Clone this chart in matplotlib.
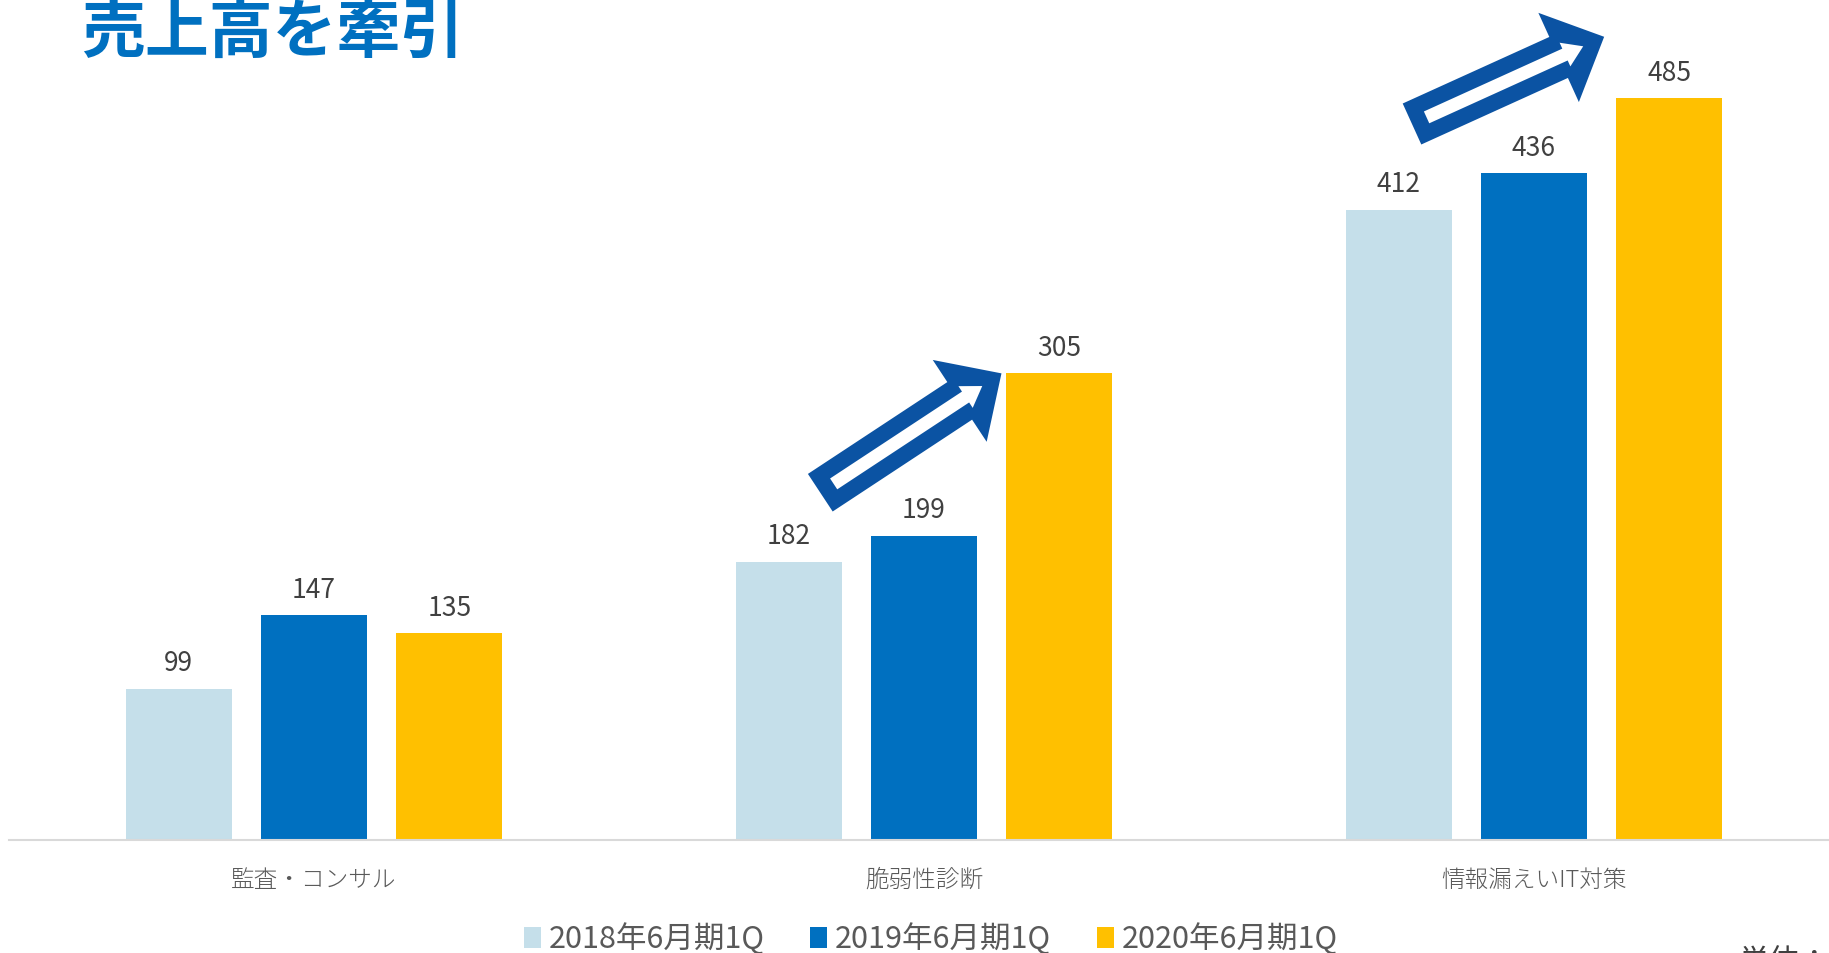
import numpy as np
import matplotlib
matplotlib.use("Agg")
import matplotlib.pyplot as plt
from matplotlib.patches import Polygon, Patch
from matplotlib.transforms import IdentityTransform

plt.rcParams['font.family'] = ['Noto Sans CJK JP', 'DejaVu Sans']

# data
categories = ['監査・コンサル', '脆弱性診断', '情報漏えいIT対策']
series_names = ['2018年6月期1Q', '2019年6月期1Q', '2020年6月期1Q']
values_2018 = [99, 182, 412]
values_2019 = [147, 199, 436]
values_2020 = [135, 305, 485]
series_values = [values_2018, values_2019, values_2020]
colors = ['#C5DFEA', '#0070C0', '#FFC000']

title = '売上高を牽引'
unit_note = '単位：百万円'

W, H = 1829, 954
fig = plt.figure(figsize=(W / 100, H / 100), dpi=100)
ax = fig.add_axes([9 / W, 1 - 841 / H, 1830 / W, 841 / H])

x = np.arange(len(categories))
bar_w = 0.174
offset = 0.222
for i, (vals, col) in enumerate(zip(series_values, colors)):
    xs = x + (i - 1) * offset
    ax.bar(xs, vals, width=bar_w, color=col, zorder=2)
    for xx, v in zip(xs, vals):
        ax.annotate(str(v), (xx, v), xytext=(0, 18.5), textcoords='offset points',
                    ha='center', va='center', fontsize=19, color='#404040')

ax.set_xlim(-0.5, 2.5)
ax.set_ylim(0, 549.7)
ax.set_yticks([])
ax.set_xticks(x)
ax.set_xticklabels(categories, fontsize=17, color='#595959', fontweight='light')
ax.tick_params(axis='x', length=0, pad=19.5)
for s in ['top', 'left', 'right']:
    ax.spines[s].set_visible(False)
ax.spines['bottom'].set_color('#D9D9D9')
ax.spines['bottom'].set_linewidth(1.5)

fig.text(81 / W, 1 - 33 / H, title, fontsize=46, fontweight='bold',
         color='#0070C0', ha='left', va='center')

handles = [Patch(facecolor=c, edgecolor='none') for c in colors]
fig.legend(handles, series_names, loc='center', bbox_to_anchor=(0.509, 14 / H),
           ncol=3, frameon=False, fontsize=22, labelcolor='#595959',
           handlelength=0.55, handleheight=0.65, handletextpad=0.26,
           columnspacing=1.5, borderpad=0.1)

# the unit note is cut off by the bottom edge in the original slide
fig.text(1738 / W, 6 / H, unit_note, fontsize=22, color='#404040',
         ha='left', va='top')


def hollow_arrow(p0, p1, shaft=45, head_w=98, head_l=50, border=16):
    """Blue-outlined white arrow from p0 (tail centre) to p1 (tip), pixels."""
    p0 = np.asarray(p0, float)
    p1 = np.asarray(p1, float)
    d = p1 - p0
    u = d / np.hypot(*d)
    n = np.array([-u[1], u[0]])

    def shape(start, tip, sw, hw, hl):
        base = tip - u * hl
        pts = [start + n * sw / 2, base + n * sw / 2, base + n * hw / 2, tip,
               base - n * hw / 2, base - n * sw / 2, start - n * sw / 2]
        return np.array(pts)

    outer = shape(p0, p1, shaft, head_w, head_l)
    inner = shape(p0 + u * border, p1 - u * 23, shaft - 2 * border, 26, 20)
    fig.patches.append(Polygon(outer, closed=True, facecolor='#0B53A3',
                               edgecolor='none', transform=IdentityTransform(),
                               figure=fig, zorder=5))
    fig.patches.append(Polygon(inner, closed=True, facecolor='white',
                               edgecolor='none', transform=IdentityTransform(),
                               figure=fig, zorder=6))


# arrows pointing at the 2020 bars of the two growing segments
for gi, tail in [(1, (0.83, 227)), (2, (1.80, 468))]:
    tip_x = gi + offset - bar_w / 2
    tip_y = values_2020[gi] + (0 if gi == 1 else 40)
    p0 = ax.transData.transform(tail)
    p1 = ax.transData.transform((tip_x - (0.008 if gi == 1 else 0.02), tip_y))
    hollow_arrow(p0, p1)

fig.savefig('out.png', dpi=100)
